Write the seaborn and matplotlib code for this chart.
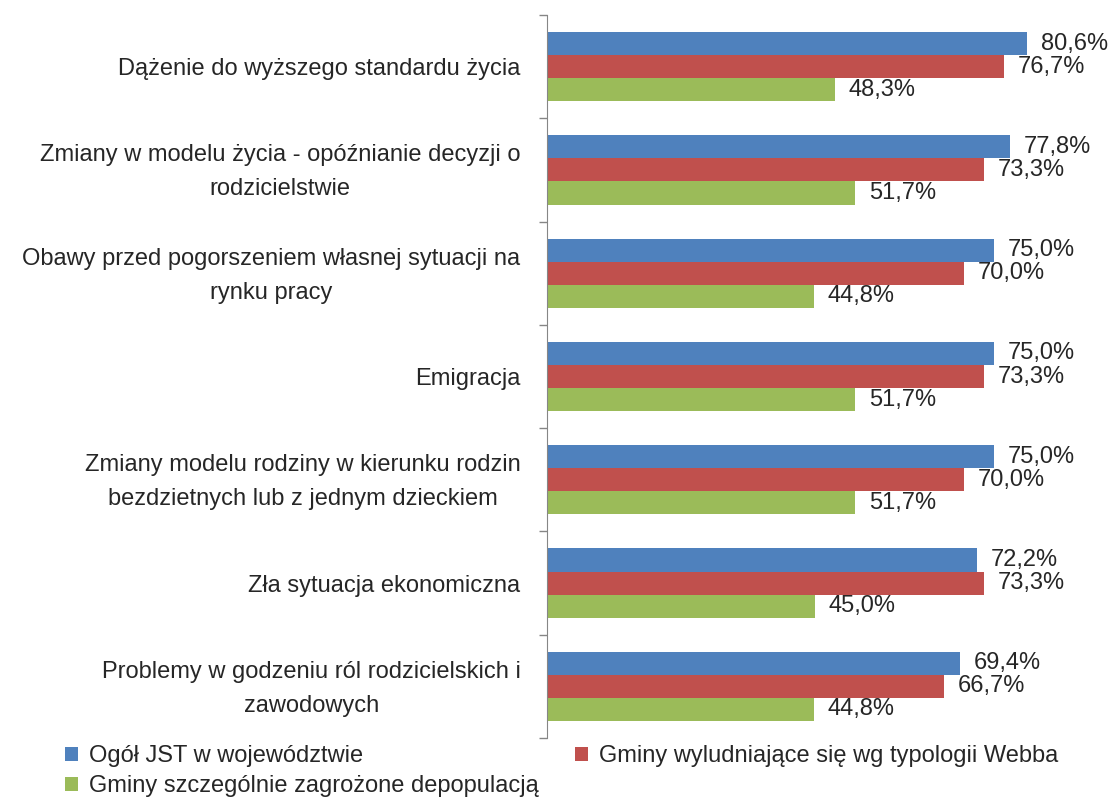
import matplotlib
matplotlib.use("Agg")
import matplotlib.pyplot as plt
import matplotlib.transforms as mtransforms
import numpy as np
import pandas as pd
import seaborn as sns

categories = [
    "Dążenie do wyższego standardu życia",
    "Zmiany w modelu życia - opóźnianie decyzji o\nrodzicielstwie",
    "Obawy przed pogorszeniem własnej sytuacji na\nrynku pracy",
    "Emigracja",
    "Zmiany modelu rodziny w kierunku rodzin\nbezdzietnych lub z jednym dzieckiem",
    "Zła sytuacja ekonomiczna",
    "Problemy w godzeniu ról rodzicielskich i\nzawodowych",
]
series = [
    "Ogół JST w województwie",
    "Gminy wyludniające się wg typologii Webba",
    "Gminy szczególnie zagrożone depopulacją",
]
ogol = [80.6, 77.8, 75.0, 75.0, 75.0, 72.2, 69.4]
webb = [76.7, 73.3, 70.0, 73.3, 70.0, 73.3, 66.7]
zagrozone = [48.3, 51.7, 44.8, 51.7, 51.7, 45.0, 44.8]
colours = ["#4F81BD", "#C0504D", "#9BBB59"]

df = pd.DataFrame({
    "cat": categories * 3,
    "val": ogol + webb + zagrozone,
    "series": [s for s in series for _ in categories],
})

sns.set_style("white")
plt.rcParams["font.family"] = ["Liberation Sans", "DejaVu Sans"]
FS = 17

fig = plt.figure(figsize=(11.12, 7.98), dpi=100)
ax = fig.add_axes([547 / 1112, 1 - 738 / 798, (1100 - 547) / 1112, (738 - 15) / 798])

sns.barplot(data=df, y="cat", x="val", hue="series", orient="h",
            palette=colours, width=0.67, ax=ax, saturation=1, linewidth=0)

for cont in ax.containers:
    labels = [f"{v:.1f}%".replace(".", ",") for v in cont.datavalues]
    ax.bar_label(cont, labels=labels, padding=10, fontsize=FS)

ax.set_xlim(0, (1100 - 547) / 5.955)
ax.set_ylim(len(categories) - 0.5, -0.5)
ax.set_xlabel("")
ax.set_ylabel("")
ax.set_xticks([])
ax.set_yticks(range(len(categories)))
ax.set_yticklabels(categories, fontsize=FS, multialignment="center", linespacing=1.7)
ax.tick_params(axis="y", which="major", left=True, length=0, pad=19)
ax.set_yticks(np.arange(-0.5, len(categories), 1), minor=True)
ax.tick_params(axis="y", which="minor", left=True, length=6, width=1,
               color="#868686", direction="out")
for side in ["top", "right", "bottom"]:
    ax.spines[side].set_visible(False)
ax.spines["left"].set_color("#868686")

# nudge two-line labels up a little
shift = mtransforms.ScaledTranslation(0, 6 / 100, fig.dpi_scale_trans)
for lab in ax.get_yticklabels():
    if "\n" in lab.get_text():
        lab.set_transform(lab.get_transform() + shift)

handles, labels = ax.get_legend_handles_labels()
ax.get_legend().remove()
order = [0, 2, 1]
fig.legend([handles[i] for i in order], [labels[i] for i in order],
           loc="lower left", bbox_to_anchor=(0.044, -0.02), ncol=2,
           frameon=False, fontsize=FS, handlelength=0.55, handleheight=0.55,
           handletextpad=0.45, columnspacing=1.55, labelspacing=0.35, borderpad=0.2)

fig.savefig("out.png", dpi=100)
